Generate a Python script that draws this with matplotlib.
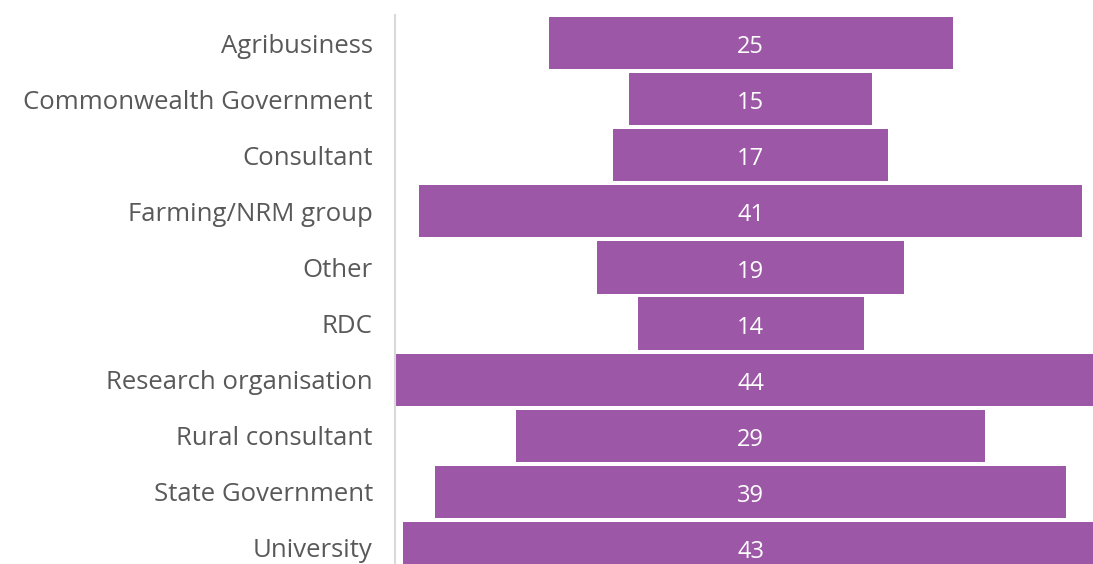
import matplotlib
matplotlib.use("Agg")
from matplotlib import pyplot as plt

categories = [
    "Agribusiness",
    "Commonwealth Government",
    "Consultant",
    "Farming/NRM group",
    "Other",
    "RDC",
    "Research organisation",
    "Rural consultant",
    "State Government",
    "University",
]
counts = [25, 15, 17, 41, 19, 14, 44, 29, 39, 43]

BAR_COLOR = "#9c57a6"
LABEL_COLOR = "#595959"

plt.rcParams["font.family"] = ["Open Sans", "DejaVu Sans"]

W, H = 1093, 564
fig = plt.figure(figsize=(W / 100, H / 100), dpi=100)
# axes reaches a bit past the bottom and right edges, so the last bars run off
ax = fig.add_axes([395 / W, -12 / H, 698 / W, 561 / H])

ypos = list(range(len(categories)))
# centred bars: start each at -n/2 so they form a funnel around zero
lefts = [-c / 2 for c in counts]
ax.barh(ypos, counts, left=lefts, height=0.93, color=BAR_COLOR)

for y, c in zip(ypos, counts):
    ax.text(0, y + 0.02, str(c), ha="center", va="center_baseline",
            color="white", fontsize=17)

ax.set_xlim(-22, 21.16)
ax.set_ylim(9.5, -0.5)
ax.set_yticks(ypos)
ax.set_yticklabels(categories, fontsize=18.5, color=LABEL_COLOR)
for lbl in ax.get_yticklabels():
    lbl.set_va("center_baseline")
ax.tick_params(axis="y", length=0, pad=16)
ax.set_xticks([])

for side in ("top", "right", "bottom"):
    ax.spines[side].set_visible(False)
ax.spines["left"].set_color("#d9d9d9")
ax.spines["left"].set_linewidth(1.5)

fig.savefig("out.png", dpi=100)
